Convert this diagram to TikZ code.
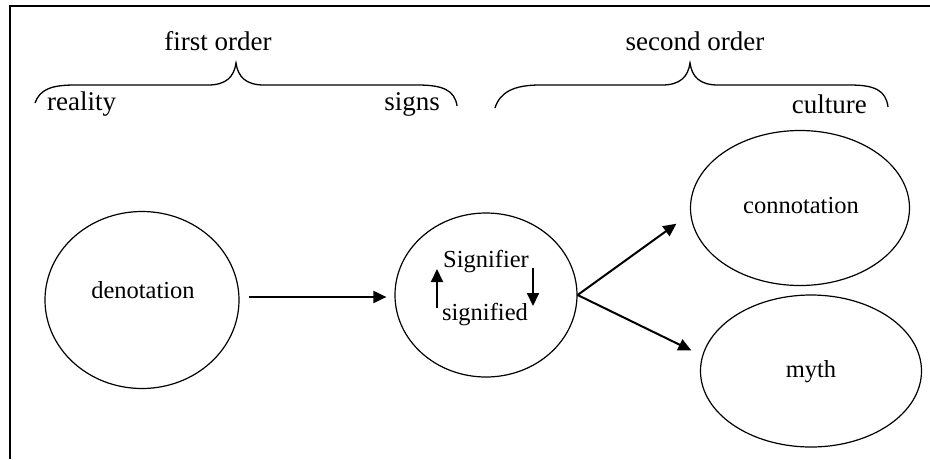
\documentclass[tikz,border=0pt]{standalone}
\usepackage{fontspec}
\setmainfont{Liberation Serif}
\usetikzlibrary{shapes.geometric,arrows.meta}
\begin{document}
\begin{tikzpicture}[x=1pt,y=-1pt,
 ell/.style={draw,ellipse,line width=1.2pt,inner sep=0pt},
 big/.style={font=\fontsize{27}{32}\selectfont,inner sep=0pt},
 lbl/.style={font=\fontsize{24.5}{29}\selectfont,inner sep=0pt,anchor=base},
 arr/.style={line width=2pt,-{Triangle[length=13pt,width=12pt]}},
 brace/.style={line width=1.3pt},
 frame/.style={line width=2.6pt}]
\useasboundingbox (0,0) rectangle (930,459);
\draw[frame] (10,459) -- (10,6) -- (930,6);

% ellipses
\node[ell,minimum width=194pt,minimum height=177pt] (den) at (142,300) {};
\node[ell,minimum width=182pt,minimum height=164pt] (mid) at (486,295) {};
\node[ell,minimum width=219pt,minimum height=155pt] (con) at (800,208) {};
\node[ell,minimum width=221pt,minimum height=152pt] (myth) at (811,371) {};

% ellipse texts
\node[lbl] (tden) at (143,298) {denotation};
\node[lbl] (tcon) at (801,213) {connotation};
\node[lbl] (tmyth) at (811,377) {myth};
\node[lbl] (tsig) at (486,267) {Signifier};
\node[lbl] (tsigd) at (485,320) {signified};

% top labels
\node[big,anchor=base] (fo) at (218,50) {first order};
\node[big,anchor=base] (so) at (695,50) {second order};
\node[big,anchor=base west] (real) at (47,110) {reality};
\node[big,anchor=base east] (signs) at (440,110) {signs};
\node[big,anchor=base east] (cult) at (867,113) {culture};

% braces
\draw[brace] (35,103) .. controls (40,89) and (52,85) .. (75,85) -- (208,85)
  .. controls (226,85) and (234,77) .. (236,63)
  .. controls (238,77) and (246,85) .. (264,85) -- (418,85)
  .. controls (442,85) and (455,90) .. (457,106);
\draw[brace] (495,108) .. controls (500,92) and (514,85) .. (540,85) -- (662,85)
  .. controls (680,85) and (688,77) .. (690,63)
  .. controls (692,77) and (700,85) .. (718,85) -- (850,85)
  .. controls (874,85) and (886,90) .. (888,107);

% connectors
\draw[arr] ([xshift=9pt,yshift=3pt]den.east) -- ([xshift=-8pt,yshift=-2pt]mid.west);
\draw[arr,shorten >=17pt] (mid.east) -- (con.183);
\draw[arr,shorten >=12pt] (mid.east) -- (myth.172);

% inner cycle arrows
\coordinate (ua) at (437,308);
\coordinate (ub) at (437,269);
\coordinate (da) at (533,268);
\coordinate (db) at (533,306);
\draw[arr] (ua) -- (ub);
\draw[arr] (da) -- (db);
\end{tikzpicture}
\end{document}
